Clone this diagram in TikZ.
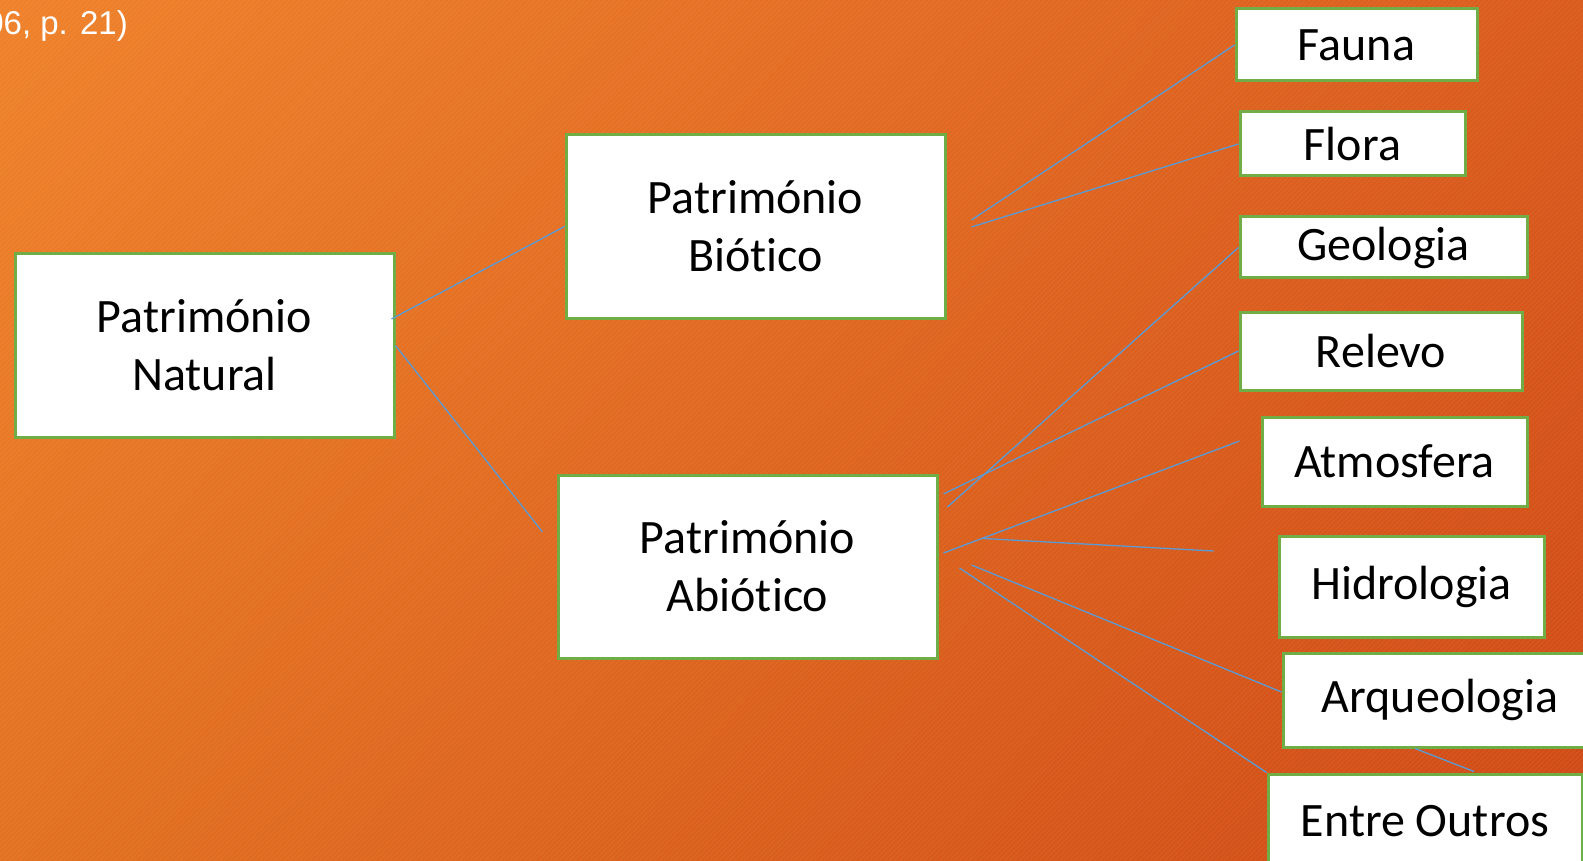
\documentclass[tikz,border=0pt]{standalone}
\usepackage{fontspec}
\setmainfont{Carlito}[Ligatures={NoCommon}]
\newfontfamily\citefont{Liberation Sans}
\usetikzlibrary{calc,shadings}
\definecolor{bgTL}{HTML}{EF8129}
\definecolor{bgTR}{HTML}{DA5A1B}
\definecolor{bgBL}{HTML}{E2701F}
\definecolor{bgBR}{HTML}{D04814}
\definecolor{boxgreen}{HTML}{70AD47}
\definecolor{linkblue}{HTML}{5B9BD5}
\begin{document}
\begin{tikzpicture}[x=1pt,y=-1pt,
  box/.style={draw=boxgreen, line width=3pt, fill=white, inner sep=0pt,
    align=center, text=black, font=\fontsize{48}{58}\selectfont},
  link/.style={draw=linkblue, line width=1.3pt}]
\useasboundingbox (0,0) rectangle (1583,861);
\clip (0,0) rectangle (1583,861);
\shade[upper left=bgTL, upper right=bgTR, lower left=bgBL, lower right=bgBR]
  (0,0) rectangle (1583,861);
\foreach \i in {0,5,...,2445}
  \draw[white, opacity=0.05, line width=1.5pt] ({\i-861},861) -- (\i,0);

\node[anchor=base east, inner sep=0pt, text=white,
  font=\citefont\fontsize{33}{38}\selectfont] (cite) at (128,35) {06, p. 21)};

% main boxes
\node[box, minimum width=379pt, minimum height=183pt] (nat)  at (204.5,345.5) {Património\\Natural};
\node[box, minimum width=379pt, minimum height=183pt] (bio)  at (755.5,226.5) {Património\\Biótico};
\node[box, minimum width=379pt, minimum height=183pt] (abio) at (747.5,566.5) {Património\\Abiótico};

% leaf boxes
\node[box, minimum width=241pt, minimum height=72pt]  (fauna) at (1356.5,45)   {Fauna};
\node[box, minimum width=225pt, minimum height=64pt]  (flora) at (1352.5,144)  {Flora};
\node[box, minimum width=287pt, minimum height=61pt]  (geo)   at (1383.5,247.5){Geologia};
\node[box, minimum width=282pt, minimum height=78pt]  (rel)   at (1381,351)    {Relevo};
\node[box, minimum width=265pt, minimum height=89pt]  (atm)   at (1394.5,461.5){Atmosfera};
\node[box, minimum width=265pt, minimum height=101pt] (hid)   at (1411.5,586.5){Hidrologia};
\node[box, minimum width=314pt, minimum height=94pt]  (arq)   at (1440,700)    {Arqueologia};
\node[box, minimum width=314pt, minimum height=94pt]  (ent)   at (1425,821)    {Entre Outros};

% connectors
\draw[link] ($(nat.east)+(-4,-26.5)$) -- (bio.west);
\coordinate (natEnd) at ($(abio.west)+(-14,-34.5)$);
\draw[link] (nat.east) -- (natEnd);

\draw[link] ($(bio.east)+(25,-6.5)$) -- (fauna.west);
\draw[link] ($(bio.east)+(25,0.5)$) -- (flora.west);

\draw[link] ($(abio.east)+(9,-59.5)$) -- (geo.west);
\draw[link] ($(abio.east)+(5,-72.5)$) -- (rel.west);
\coordinate (atmS) at ($(abio.east)+(5,-13.5)$);
\coordinate (atmE) at ($(atm.west)+(-21,-20.5)$);
\draw[link] (atmS) -- (atmE);
\coordinate (hidS) at ($(atmS)!0.13!(atmE)$);
\coordinate (hidE) at ($(hid.west)+(-64,-35.5)$);
\draw[link] (hidS) -- (hidE);
\draw[link] ($(abio.east)+(33,-1.5)$) -- ($(arq.west)+(0,-8)$);
\draw[link] ($(abio.east)+(21,1.5)$) -- (ent.north west);
\draw[link] ($(arq.south)+(-25,0)$) -- ($(ent.north)+(49,-1)$);
\end{tikzpicture}
\end{document}
